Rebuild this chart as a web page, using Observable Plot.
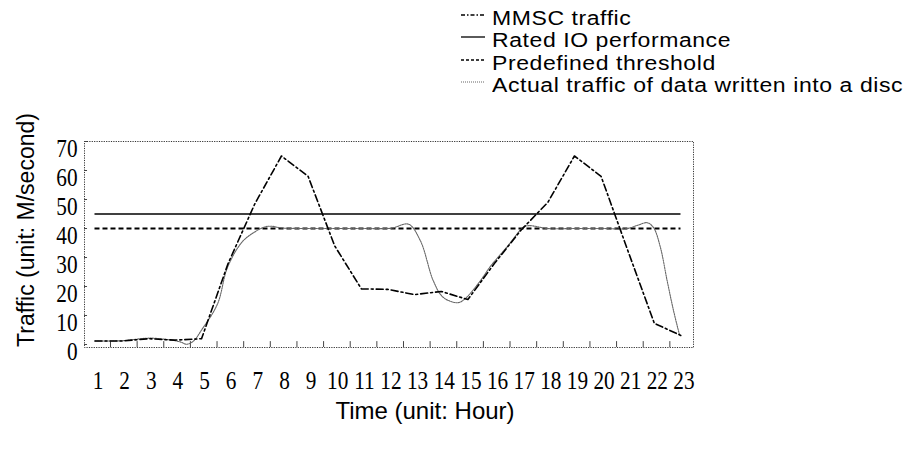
<!DOCTYPE html>
<html><head><meta charset="utf-8">
<script src="https://cdn.jsdelivr.net/npm/d3@7"></script>
<script src="https://cdn.jsdelivr.net/npm/@observablehq/plot@0.6"></script>
<style>
body{margin:0;background:#fff;}
#wrap{position:relative;width:919px;height:453px;overflow:hidden;font-family:"Liberation Sans",Arial,sans-serif;color:#000;}
#chart{position:absolute;left:0;top:0;}
.legend{position:absolute;left:460px;top:7px;font-size:20px;letter-spacing:0.5px;}
.legend .row{display:flex;align-items:center;height:22.3px;line-height:22.3px;white-space:nowrap;}
.legend .row span{display:inline-block;transform:scale(1.15,1);transform-origin:0 50%;}
.legend svg{width:26px;height:14px;margin-right:6px;margin-top:-6px;}
.ytitle{position:absolute;left:26px;top:230px;transform:translate(-50%,-50%) rotate(-90deg);font-size:23px;white-space:nowrap;}
.xtitle{position:absolute;left:425px;top:411px;transform:translate(-50%,-50%);font-size:24px;white-space:nowrap;}
</style></head><body>
<div id="wrap">
  <div id="chart"></div>
  <div class="legend" id="legend"></div>
  <div class="ytitle">Traffic (unit: M/second)</div>
  <div class="xtitle">Time (unit: Hour)</div>
</div>
<script>
// ---- data ----
const hours = [1,2,3,4,5,6,7,8,9,10,11,12,13,14,15,16,17,18,19,20,21,22,23];
const mmscTraffic = [1.2,1.2,2.0,1.5,2.0,28,48.5,65,58,34,19.2,19,17.2,18.3,15.5,28,39.5,49,65,58,32.5,7.3,3.1];
const ratedIO = 45;
const predefinedThreshold = 40;
const actualHours = [1,2,3.05,3.8,4.2,4.45,4.7,5,5.6,5.97,6.49,6.86,7.36,7.6,8,9,10,11,12,12.2,12.77,13.22,13.7,14.07,14.6,14.86,15.47,15.85,16.5,17.09,17.3,18,19,20,20.98,21.4,21.73,21.97,22.23,22.48,22.72,22.95];
const actualTraffic = [1.2,1.3,2.2,1.6,0.9,0.1,1.2,5,14,26.5,35,38,40.5,40.8,40.2,40,40,40,40,40.2,41.5,35.7,22,16.3,14.4,15.5,22,27,34,40.5,41,40,40,40,40,41.2,42,40.3,33.4,22,11.7,3.1];
const xTickLabels = [1,2,3,4,5,6,7,8,9,10,11,12,13,14,15,16,17,18,19,20,21,22,23];
const yTickValues = [0,10,20,30,40,50,60,70];
const legendItems = ["MMSC traffic","Rated IO performance","Predefined threshold","Actual traffic of data written into a disc"];

const mmscData = hours.map((h,i)=>({h, v:mmscTraffic[i]}));
const actualData = actualHours.map((h,i)=>({h, v:actualTraffic[i]}));
const hFirst = hours[0], hLast = hours[hours.length-1];

const styles = [
  {stroke:"#000", strokeWidth:1.6, strokeDasharray:"7,3,2,3"},
  {stroke:"#000", strokeWidth:1.3, strokeDasharray:null},
  {stroke:"#000", strokeWidth:1.8, strokeDasharray:"5,3"},
  {stroke:"#666", strokeWidth:1.1, strokeDasharray:"1.5,1"}
];

const serif = "'Liberation Serif','Times New Roman',serif";
const chart = Plot.plot({
  width: 919, height: 453,
  marginLeft: 84, marginRight: 226, marginTop: 141, marginBottom: 106,
  x: {domain: [0.606, 23.47]},
  y: {domain: [-1.03, 70]},
  style: {background: "transparent", overflow: "visible"},
  marks: [
    Plot.frame({stroke:"#333", strokeWidth:1, strokeDasharray:"1.2,1.2"}),
    Plot.axisX(xTickLabels, {tickSize:0, tickPadding:24, dx:3, fontSize:25, fontFamily:serif, fill:"#000", label:null}),
    Plot.axisY(yTickValues, {tickSize:0, tickPadding:7, dy:7, fontSize:25, fontFamily:serif, fill:"#000", label:null}),
    Plot.ruleX(xTickLabels.slice(0,-1), {x:d=>d, y1:-1.03, y2:1.0, dx:15.5, stroke:"#444", strokeWidth:1}),
    Plot.ruleY(yTickValues, {y:d=>d, x1:0.606, x2:0.72, stroke:"#444", strokeWidth:1}),
    Plot.ruleY([ratedIO], {x1:hFirst, x2:hLast, ...styles[1]}),
    Plot.ruleY([predefinedThreshold], {x1:hFirst, x2:hLast, ...styles[2]}),
    Plot.line(actualData, {x:"h", y:"v", curve:"catmull-rom", ...styles[3]}),
    Plot.line(mmscData, {x:"h", y:"v", ...styles[0]})
  ]
});
document.getElementById("chart").appendChild(chart);

// condensed serif tick labels
chart.querySelectorAll('g[aria-label="x-axis tick label"] text, g[aria-label="y-axis tick label"] text').forEach(t=>{
  const tr = t.getAttribute("transform") || "";
  t.setAttribute("transform", tr + " scale(0.85,1)");
});

// legend
const lg = document.getElementById("legend");
legendItems.forEach((name,i)=>{
  const row = document.createElement("div");
  row.className = "row";
  const s = styles[i];
  row.innerHTML = `<svg viewBox="0 0 26 14"><line x1="1" x2="25" y1="7" y2="7" stroke="${s.stroke}" stroke-width="${Math.min(s.strokeWidth,1.4)}" ${s.strokeDasharray?`stroke-dasharray="${i===0?'4,2,1.5,2':(i===2?'3,2':'1,1')}"`:''}/></svg><span>${name}</span>`;
  lg.appendChild(row);
});
</script>
</body></html>
